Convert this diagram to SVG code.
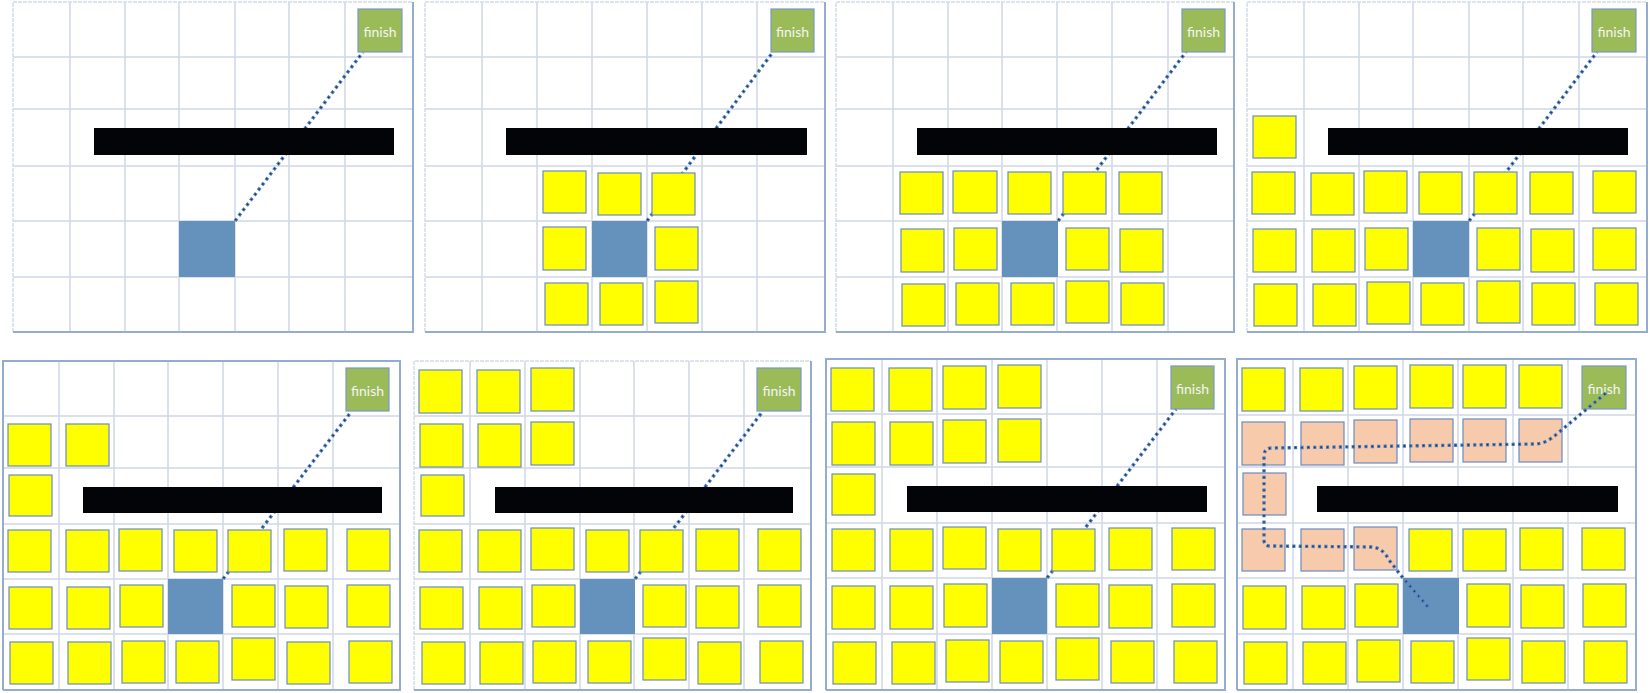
<svg xmlns="http://www.w3.org/2000/svg" width="1650" height="693" viewBox="0 0 1650 693">
<style>
.grid{fill:none;stroke:#cfd8e6;stroke-width:1.5}
.fl{fill:none;stroke:#d3dbe8;stroke-width:1.5;stroke-dasharray:4 1}
.fd{fill:none;stroke:#93acd0;stroke-width:2}
.bar{fill:#030407}
.blue{fill:#6592bd}
.fin rect{fill:#9bbb59;stroke:#7a98c6;stroke-width:1.2}
.fin text{fill:#f4f4f4;font-family:Lato,"Open Sans",sans-serif;font-size:14px;text-anchor:middle;dominant-baseline:central}
.y{fill:#ffff00;stroke:#6a8cc4;stroke-width:1.2}
.pe{fill:#f7caab;stroke:#6a8cc4;stroke-width:1.2}
.c1{fill:none;stroke:#4b7dbd;stroke-width:3.4;stroke-dasharray:3.2 3.2}
.c2{fill:none;stroke:#1c2a45;stroke-width:1.3;stroke-dasharray:1.3 5.1;stroke-dashoffset:-0.95}
</style>
<rect width="1650" height="693" fill="#ffffff"/>

<!-- grids -->
<g id="grids">
<path class="grid" d="M70 2V332M125 2V332M179 2V332M235 2V332M289 2V332M345 2V332M13 57H413M13 109H413M13 166H413M13 221H413M13 277H413"/>
<path class="fl" d="M13 332V2H413"/><path class="fd" d="M413 2V332H13"/>
<path class="grid" d="M482 2V332M537 2V332M592 2V332M647 2V332M702 2V332M757 2V332M425 57H825M425 109H825M425 166H825M425 221H825M425 277H825"/>
<path class="fl" d="M425 332V2H825"/><path class="fd" d="M825 2V332H425"/>
<path class="grid" d="M893 2V332M948 2V332M1002 2V332M1057 2V332M1112 2V332M1168 2V332M836 57H1234M836 109H1234M836 166H1234M836 221H1234M836 277H1234"/>
<path class="fl" d="M836 332V2H1234"/><path class="fd" d="M1234 2V332H836"/>
<path class="grid" d="M1304 2V332M1359 2V332M1413 2V332M1469 2V332M1523 2V332M1579 2V332M1247 57H1647M1247 109H1647M1247 166H1647M1247 221H1647M1247 277H1647"/>
<path class="fl" d="M1247 332V2H1647"/><path class="fd" d="M1647 2V332H1247"/>
<path class="grid" d="M59 361V690M114 361V690M168 361V690M223 361V690M278 361V690M333 361V690M3 416H400M3 468H400M3 524H400M3 579H400M3 634H400"/>
<path class="fd" d="M3 690V361H400V690H3"/>
<path class="grid" d="M470 361V690M525 361V690M580 361V690M634 361V690M689 361V690M744 361V690M414 416H811M414 468H811M414 524H811M414 579H811M414 634H811"/>
<path class="fl" d="M414 690V361H811"/><path class="fd" d="M811 361V690H414"/>
<path class="grid" d="M882 359V690M937 359V690M992 359V690M1047 359V690M1102 359V690M1157 359V690M826 414H1225M826 467H1225M826 523H1225M826 578H1225M826 634H1225"/>
<path class="fd" d="M826 690V359H1225V690H826"/>
<path class="grid" d="M1293 359V690M1348 359V690M1403 359V690M1458 359V690M1513 359V690M1568 359V690M1237 415H1636M1237 467H1636M1237 523H1636M1237 578H1636M1237 634H1636"/>
<path class="fd" d="M1237 690V359H1636V690H1237"/>
</g>

<!-- connectors under nodes -->
<g id="connectors">
<path class="c1" d="M235 221L363 52"/><path class="c2" d="M235 221L363 52"/>
<path class="c1" d="M647 221L773 52"/><path class="c2" d="M647 221L773 52"/>
<path class="c1" d="M1058 221L1186 52"/><path class="c2" d="M1058 221L1186 52"/>
<path class="c1" d="M1469 221L1597 52"/><path class="c2" d="M1469 221L1597 52"/>
<path class="c1" d="M223 579L351 412"/><path class="c2" d="M223 579L351 412"/>
<path class="c1" d="M635 579L763 411"/><path class="c2" d="M635 579L763 411"/>
<path class="c1" d="M1047 578L1176 409"/><path class="c2" d="M1047 578L1176 409"/>
</g>

<!-- Panel 1 -->
<g id="panel1">
<g id="p1-barrier"><rect class="bar" x="94" y="128" width="300" height="27"/></g>
<g id="p1-start"><rect class="blue" x="179" y="221" width="56" height="56"/></g>
<g id="p1-finish" class="fin"><rect x="358" y="9" width="44" height="43"/><text x="380" y="31">finish</text></g>
</g>

<!-- Panel 2 -->
<g id="panel2">
<g id="p2-barrier"><rect class="bar" x="506" y="128" width="301" height="27"/></g>
<g id="p2-start"><rect class="blue" x="592" y="221" width="55" height="56"/></g>
<g id="p2-finish" class="fin"><rect x="771" y="9" width="43" height="43"/><text x="792.5" y="31">finish</text></g>
<g id="p2-open">
<rect class="y" x="543" y="171" width="43" height="42"/><rect class="y" x="598" y="173" width="43" height="42"/><rect class="y" x="652" y="173" width="43" height="42"/>
<rect class="y" x="543" y="227" width="43" height="43"/><rect class="y" x="655" y="227" width="43" height="43"/>
<rect class="y" x="545" y="283" width="43" height="42"/><rect class="y" x="600" y="283" width="43" height="42"/><rect class="y" x="655" y="281" width="43" height="42"/>
</g>
</g>

<!-- Panel 3 -->
<g id="panel3">
<g id="p3-barrier"><rect class="bar" x="917" y="128" width="300" height="27"/></g>
<g id="p3-start"><rect class="blue" x="1002" y="221" width="56" height="56"/></g>
<g id="p3-finish" class="fin"><rect x="1182" y="9" width="43" height="43"/><text x="1203.5" y="31">finish</text></g>
<g id="p3-open">
<rect class="y" x="900" y="172" width="43" height="42"/><rect class="y" x="953" y="171" width="44" height="42"/><rect class="y" x="1008" y="172" width="43" height="42"/><rect class="y" x="1063" y="172" width="43" height="42"/><rect class="y" x="1119" y="172" width="43" height="42"/>
<rect class="y" x="901" y="229" width="43" height="43"/><rect class="y" x="954" y="228" width="43" height="42"/><rect class="y" x="1066" y="228" width="43" height="42"/><rect class="y" x="1120" y="229" width="43" height="43"/>
<rect class="y" x="902" y="284" width="43" height="42"/><rect class="y" x="956" y="283" width="43" height="42"/><rect class="y" x="1011" y="283" width="43" height="42"/><rect class="y" x="1066" y="281" width="43" height="42"/><rect class="y" x="1121" y="283" width="43" height="42"/>
</g>
</g>

<!-- Panel 4 -->
<g id="panel4">
<g id="p4-barrier"><rect class="bar" x="1328" y="128" width="300" height="27"/></g>
<g id="p4-start"><rect class="blue" x="1413" y="221" width="56" height="56"/></g>
<g id="p4-finish" class="fin"><rect x="1592" y="9" width="44" height="43"/><text x="1614" y="31">finish</text></g>
<g id="p4-open">
<rect class="y" x="1253" y="116" width="43" height="42"/>
<rect class="y" x="1252" y="172" width="43" height="42"/><rect class="y" x="1311" y="173" width="43" height="42"/><rect class="y" x="1364" y="171" width="43" height="42"/><rect class="y" x="1419" y="172" width="43" height="42"/><rect class="y" x="1474" y="172" width="43" height="42"/><rect class="y" x="1530" y="172" width="43" height="42"/><rect class="y" x="1593" y="171" width="43" height="42"/>
<rect class="y" x="1253" y="229" width="43" height="43"/><rect class="y" x="1312" y="229" width="43" height="43"/><rect class="y" x="1365" y="228" width="43" height="42"/><rect class="y" x="1477" y="228" width="43" height="42"/><rect class="y" x="1531" y="229" width="43" height="43"/><rect class="y" x="1593" y="228" width="43" height="42"/>
<rect class="y" x="1254" y="284" width="43" height="42"/><rect class="y" x="1313" y="284" width="43" height="42"/><rect class="y" x="1367" y="282" width="43" height="42"/><rect class="y" x="1421" y="283" width="43" height="42"/><rect class="y" x="1477" y="281" width="43" height="42"/><rect class="y" x="1532" y="283" width="43" height="42"/><rect class="y" x="1595" y="283" width="43" height="42"/>
</g>
</g>

<!-- Panel 5 -->
<g id="panel5">
<g id="p5-barrier"><rect class="bar" x="83" y="487" width="299" height="26"/></g>
<g id="p5-start"><rect class="blue" x="168" y="579" width="55" height="55"/></g>
<g id="p5-finish" class="fin"><rect x="346" y="368" width="43" height="43"/><text x="367.5" y="390">finish</text></g>
<g id="p5-open">
<rect class="y" x="8" y="424" width="43" height="42"/><rect class="y" x="66" y="424" width="43" height="42"/>
<rect class="y" x="9" y="475" width="43" height="41"/>
<rect class="y" x="8" y="530" width="43" height="42"/><rect class="y" x="66" y="530" width="43" height="42"/><rect class="y" x="119" y="529" width="43" height="42"/><rect class="y" x="174" y="530" width="43" height="42"/><rect class="y" x="228" y="530" width="43" height="42"/><rect class="y" x="284" y="529" width="43" height="42"/><rect class="y" x="347" y="529" width="43" height="42"/>
<rect class="y" x="9" y="587" width="43" height="42"/><rect class="y" x="67" y="587" width="43" height="42"/><rect class="y" x="120" y="585" width="43" height="42"/><rect class="y" x="232" y="585" width="43" height="42"/><rect class="y" x="285" y="586" width="43" height="42"/><rect class="y" x="347" y="585" width="43" height="42"/>
<rect class="y" x="10" y="642" width="43" height="42"/><rect class="y" x="68" y="642" width="43" height="42"/><rect class="y" x="122" y="641" width="43" height="42"/><rect class="y" x="176" y="641" width="43" height="42"/><rect class="y" x="232" y="638" width="43" height="42"/><rect class="y" x="287" y="642" width="43" height="42"/><rect class="y" x="349" y="641" width="43" height="42"/>
</g>
</g>

<!-- Panel 6 -->
<g id="panel6">
<g id="p6-barrier"><rect class="bar" x="495" y="487" width="298" height="26"/></g>
<g id="p6-start"><rect class="blue" x="580" y="579" width="55" height="55"/></g>
<g id="p6-finish" class="fin"><rect x="757" y="368" width="44" height="43"/><text x="779" y="390">finish</text></g>
<g id="p6-open">
<rect class="y" x="419" y="370" width="43" height="43"/><rect class="y" x="477" y="370" width="43" height="43"/><rect class="y" x="531" y="368" width="43" height="43"/>
<rect class="y" x="420" y="424" width="43" height="43"/><rect class="y" x="478" y="424" width="43" height="43"/><rect class="y" x="531" y="422" width="43" height="43"/>
<rect class="y" x="421" y="475" width="43" height="41"/>
<rect class="y" x="419" y="530" width="43" height="42"/><rect class="y" x="478" y="530" width="43" height="42"/><rect class="y" x="531" y="528" width="43" height="42"/><rect class="y" x="586" y="530" width="43" height="42"/><rect class="y" x="640" y="530" width="43" height="42"/><rect class="y" x="696" y="529" width="43" height="42"/><rect class="y" x="758" y="529" width="43" height="42"/>
<rect class="y" x="420" y="587" width="43" height="42"/><rect class="y" x="479" y="587" width="43" height="42"/><rect class="y" x="532" y="585" width="43" height="42"/><rect class="y" x="643" y="585" width="43" height="42"/><rect class="y" x="696" y="586" width="43" height="42"/><rect class="y" x="758" y="585" width="43" height="42"/>
<rect class="y" x="422" y="642" width="43" height="42"/><rect class="y" x="480" y="642" width="43" height="42"/><rect class="y" x="533" y="641" width="43" height="42"/><rect class="y" x="588" y="641" width="43" height="42"/><rect class="y" x="643" y="638" width="43" height="42"/><rect class="y" x="698" y="642" width="43" height="42"/><rect class="y" x="760" y="641" width="43" height="42"/>
</g>
</g>

<!-- Panel 7 -->
<g id="panel7">
<g id="p7-barrier"><rect class="bar" x="907" y="486" width="300" height="26"/></g>
<g id="p7-start"><rect class="blue" x="992" y="578" width="55" height="56"/></g>
<g id="p7-finish" class="fin"><rect x="1171" y="366" width="43" height="43"/><text x="1192.5" y="388">finish</text></g>
<g id="p7-open">
<rect class="y" x="831" y="368" width="43" height="43"/><rect class="y" x="889" y="368" width="43" height="43"/><rect class="y" x="943" y="366" width="43" height="43"/><rect class="y" x="998" y="365" width="43" height="43"/>
<rect class="y" x="832" y="422" width="43" height="43"/><rect class="y" x="890" y="422" width="43" height="43"/><rect class="y" x="943" y="420" width="43" height="43"/><rect class="y" x="998" y="419" width="43" height="43"/>
<rect class="y" x="832" y="474" width="43" height="41"/>
<rect class="y" x="832" y="529" width="43" height="42"/><rect class="y" x="890" y="529" width="43" height="42"/><rect class="y" x="943" y="527" width="43" height="42"/><rect class="y" x="998" y="529" width="43" height="42"/><rect class="y" x="1052" y="529" width="43" height="42"/><rect class="y" x="1109" y="528" width="43" height="42"/><rect class="y" x="1172" y="528" width="43" height="42"/>
<rect class="y" x="832" y="586" width="43" height="43"/><rect class="y" x="890" y="586" width="43" height="43"/><rect class="y" x="944" y="584" width="43" height="43"/><rect class="y" x="1056" y="584" width="43" height="43"/><rect class="y" x="1109" y="585" width="43" height="43"/><rect class="y" x="1172" y="584" width="43" height="43"/>
<rect class="y" x="833" y="642" width="43" height="42"/><rect class="y" x="892" y="642" width="43" height="42"/><rect class="y" x="946" y="640" width="43" height="42"/><rect class="y" x="1000" y="641" width="43" height="42"/><rect class="y" x="1056" y="638" width="43" height="42"/><rect class="y" x="1111" y="641" width="43" height="42"/><rect class="y" x="1174" y="641" width="43" height="42"/>
</g>
</g>

<!-- Panel 8 -->
<g id="panel8">
<g id="p8-barrier"><rect class="bar" x="1317" y="486" width="301" height="26"/></g>
<g id="p8-start"><rect class="blue" x="1403" y="578" width="56" height="56"/></g>
<g id="p8-finish" class="fin"><rect x="1582" y="366" width="44" height="43"/><text x="1604" y="388">finish</text></g>
<g id="p8-open">
<rect class="y" x="1242" y="368" width="43" height="43"/><rect class="y" x="1300" y="368" width="43" height="43"/><rect class="y" x="1354" y="366" width="43" height="43"/><rect class="y" x="1410" y="365" width="43" height="43"/><rect class="y" x="1463" y="365" width="43" height="43"/><rect class="y" x="1519" y="365" width="43" height="43"/>
<rect class="y" x="1409" y="529" width="43" height="42"/><rect class="y" x="1463" y="529" width="43" height="42"/><rect class="y" x="1520" y="528" width="43" height="42"/><rect class="y" x="1582" y="528" width="43" height="42"/>
<rect class="y" x="1243" y="586" width="43" height="43"/><rect class="y" x="1302" y="586" width="43" height="43"/><rect class="y" x="1355" y="584" width="43" height="43"/><rect class="y" x="1467" y="584" width="43" height="43"/><rect class="y" x="1521" y="585" width="43" height="43"/><rect class="y" x="1583" y="584" width="43" height="43"/>
<rect class="y" x="1244" y="642" width="43" height="42"/><rect class="y" x="1303" y="642" width="43" height="42"/><rect class="y" x="1357" y="640" width="43" height="42"/><rect class="y" x="1411" y="641" width="43" height="42"/><rect class="y" x="1467" y="638" width="43" height="42"/><rect class="y" x="1522" y="641" width="43" height="42"/><rect class="y" x="1584" y="641" width="43" height="42"/>
</g>
<g id="p8-path">
<rect class="pe" x="1242" y="422" width="43" height="43"/><rect class="pe" x="1301" y="422" width="43" height="43"/><rect class="pe" x="1354" y="420" width="43" height="43"/><rect class="pe" x="1410" y="419" width="43" height="43"/><rect class="pe" x="1463" y="419" width="43" height="43"/><rect class="pe" x="1519" y="419" width="43" height="43"/>
<rect class="pe" x="1243" y="473" width="43" height="42"/>
<rect class="pe" x="1242" y="529" width="43" height="42"/><rect class="pe" x="1301" y="529" width="43" height="42"/><rect class="pe" x="1354" y="527" width="43" height="43"/>
</g>
</g>

<!-- connector drawn over nodes (found path) -->
<g id="connectors-route">
<path class="c1" d="M1428 607L1403 578L1389 560Q1383 548 1372 547L1270 546Q1264 546 1264 540L1264 456Q1264 448 1272 448L1535 444Q1546 444 1558 433L1606 393"/>
<path class="c2" d="M1428 607L1403 578L1389 560Q1383 548 1372 547L1270 546Q1264 546 1264 540L1264 456Q1264 448 1272 448L1535 444Q1546 444 1558 433L1606 393"/>
</g>
</svg>
